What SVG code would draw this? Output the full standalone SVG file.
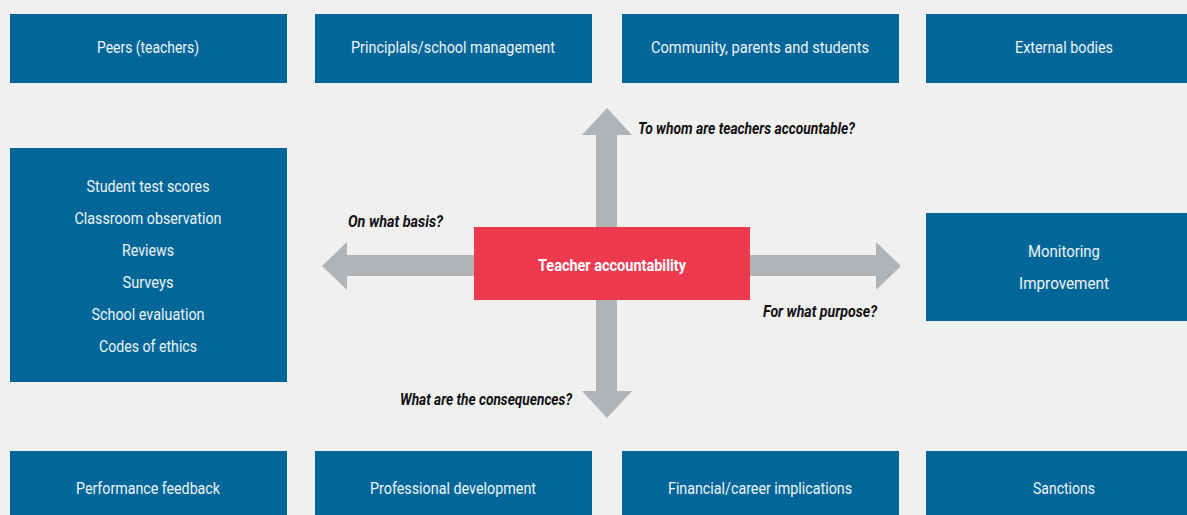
<svg xmlns="http://www.w3.org/2000/svg" width="1187" height="515" viewBox="0 0 1187 515">
<style>
.box{fill:#026798}
.lbl{font-family:Roboto,"Liberation Sans",sans-serif;font-size:16px;fill:#eef3f7;text-anchor:middle}
.q{font-family:Roboto,"Liberation Sans",sans-serif;font-size:16px;font-weight:bold;font-style:italic;fill:#111}
.arr{fill:#b1b4b7}
</style>
<rect width="1187" height="515" fill="#f0f0f0"/>
<g id="connectors">
<polygon class="arr" points="596,228 596,135 582,135 607,108 632,135 617,135 617,228"/>
<polygon class="arr" points="596,300 596,391 582,391 607,418 632,391 617,391 617,300"/>
<polygon class="arr" points="474,255 347,255 347,242 322,266 347,290 347,276 474,276"/>
<polygon class="arr" points="750,255 876,255 876,242 901,266 876,290 876,276 750,276"/>
<text class="q" x="638" y="134" textLength="217" lengthAdjust="spacingAndGlyphs">To whom are teachers accountable?</text>
<text class="q" x="348" y="227" textLength="95" lengthAdjust="spacingAndGlyphs">On what basis?</text>
<text class="q" x="763" y="317" textLength="114" lengthAdjust="spacingAndGlyphs">For what purpose?</text>
<text class="q" x="400" y="405" textLength="172" lengthAdjust="spacingAndGlyphs">What are the consequences?</text>
</g>
<g id="center">
<rect x="474" y="227" width="276" height="73" fill="#ee3a4f"/>
<text x="612" y="271" font-family="Roboto,'Liberation Sans',sans-serif" font-size="16" font-weight="bold" fill="#fff" text-anchor="middle" textLength="148" lengthAdjust="spacingAndGlyphs">Teacher accountability</text>
</g>
<g id="peers"><rect class="box" x="10" y="14" width="277" height="69"/><text class="lbl" x="148" y="53" textLength="102" lengthAdjust="spacingAndGlyphs">Peers (teachers)</text></g>
<g id="principals"><rect class="box" x="315" y="14" width="277" height="69"/><text class="lbl" x="453" y="53" textLength="204" lengthAdjust="spacingAndGlyphs">Principlals/school management</text></g>
<g id="community"><rect class="box" x="622" y="14" width="277" height="69"/><text class="lbl" x="760" y="53" textLength="218" lengthAdjust="spacingAndGlyphs">Community, parents and students</text></g>
<g id="external"><rect class="box" x="926" y="14" width="261" height="69"/><text class="lbl" x="1064" y="53" textLength="98" lengthAdjust="spacingAndGlyphs">External bodies</text></g>
<g id="basis"><rect class="box" x="10" y="148" width="277" height="234"/>
<text class="lbl" x="148" y="192" textLength="123" lengthAdjust="spacingAndGlyphs">Student test scores</text>
<text class="lbl" x="148" y="224" textLength="147" lengthAdjust="spacingAndGlyphs">Classroom observation</text>
<text class="lbl" x="148" y="256" textLength="52" lengthAdjust="spacingAndGlyphs">Reviews</text>
<text class="lbl" x="148" y="288" textLength="51" lengthAdjust="spacingAndGlyphs">Surveys</text>
<text class="lbl" x="148" y="320" textLength="113" lengthAdjust="spacingAndGlyphs">School evaluation</text>
<text class="lbl" x="148" y="352" textLength="98" lengthAdjust="spacingAndGlyphs">Codes of ethics</text>
</g>
<g id="purpose"><rect class="box" x="926" y="213" width="261" height="108"/>
<text class="lbl" x="1064" y="257" textLength="72" lengthAdjust="spacingAndGlyphs">Monitoring</text>
<text class="lbl" x="1064" y="289" textLength="90" lengthAdjust="spacingAndGlyphs">Improvement</text>
</g>
<g id="feedback"><rect class="box" x="10" y="451" width="277" height="64"/><text class="lbl" x="148" y="494" textLength="144" lengthAdjust="spacingAndGlyphs">Performance feedback</text></g>
<g id="development"><rect class="box" x="315" y="451" width="277" height="64"/><text class="lbl" x="453" y="494" textLength="166" lengthAdjust="spacingAndGlyphs">Professional development</text></g>
<g id="financial"><rect class="box" x="622" y="451" width="277" height="64"/><text class="lbl" x="760" y="494" textLength="184" lengthAdjust="spacingAndGlyphs">Financial/career implications</text></g>
<g id="sanctions"><rect class="box" x="926" y="451" width="261" height="64"/><text class="lbl" x="1064" y="494" textLength="62" lengthAdjust="spacingAndGlyphs">Sanctions</text></g>
</svg>
